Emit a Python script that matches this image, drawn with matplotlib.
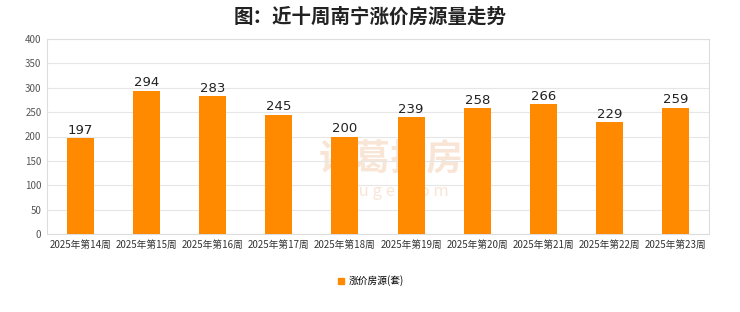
import matplotlib
matplotlib.use("Agg")
import matplotlib.pyplot as plt
from matplotlib.lines import Line2D

plt.rcParams['font.family'] = ['Noto Sans CJK SC', 'DejaVu Sans']

categories = ["2025年第14周", "2025年第15周", "2025年第16周", "2025年第17周", "2025年第18周",
              "2025年第19周", "2025年第20周", "2025年第21周", "2025年第22周", "2025年第23周"]
values = [197, 294, 283, 245, 200, 239, 258, 266, 229, 259]
yticks = [0, 50, 100, 150, 200, 250, 300, 350, 400]
title = "图：近十周南宁涨价房源量走势"
legend_label = "涨价房源(套)"

bar_color = "#FF8A00"
grid_color = "#E6E6E6"

fig = plt.figure(figsize=(7.4, 3.12), dpi=100)
ax = fig.add_axes([47/740, 1-234/312, (709-47)/740, (234-39)/312])

x = list(range(len(categories)))
ax.bar(x, values, width=0.41, color=bar_color, zorder=3)
for xi, v in zip(x, values):
    ax.text(xi, v + 3, str(v), ha='center', va='bottom', fontsize=9.5, color='#222222', zorder=4,
            family=['DejaVu Sans'])

ax.set_xlim(-0.5, len(categories) - 0.5)
ax.set_ylim(0, 400)
ax.set_yticks(yticks)
ax.set_yticklabels([str(t) for t in yticks], fontsize=7, color='#555555')
ax.set_xticks(x)
ax.set_xticklabels(categories, fontsize=7, color='#333333')
ax.tick_params(axis='both', length=0, pad=4)
ax.grid(axis='y', color=grid_color, linewidth=0.8, zorder=0)
for s in ax.spines.values():
    s.set_color('#DDDDDD')
    s.set_linewidth(0.8)

# faint watermark behind bars
ax.text(0.52, 0.38, "诸葛找房", transform=ax.transAxes, fontsize=26, color='#F6D5BC', alpha=0.6,
        ha='center', va='center', fontweight='bold', zorder=1)
ax.text(0.52, 0.22, "z h u g e . c o m", transform=ax.transAxes, fontsize=12, color='#F6D5BC', alpha=0.6,
        ha='center', va='center', zorder=1)

fig.text(0.5, 1-17/312, title, fontsize=14, fontweight='bold', ha='center', va='center', color='#222222')

handle = Line2D([], [], marker='s', linestyle='none', markersize=5, color=bar_color)
fig.legend([handle], [legend_label], loc='center', bbox_to_anchor=(0.5, 1-281/312),
           frameon=False, fontsize=7, handletextpad=0.3, handlelength=1)

fig.savefig("out.png", dpi=100, facecolor='white')
